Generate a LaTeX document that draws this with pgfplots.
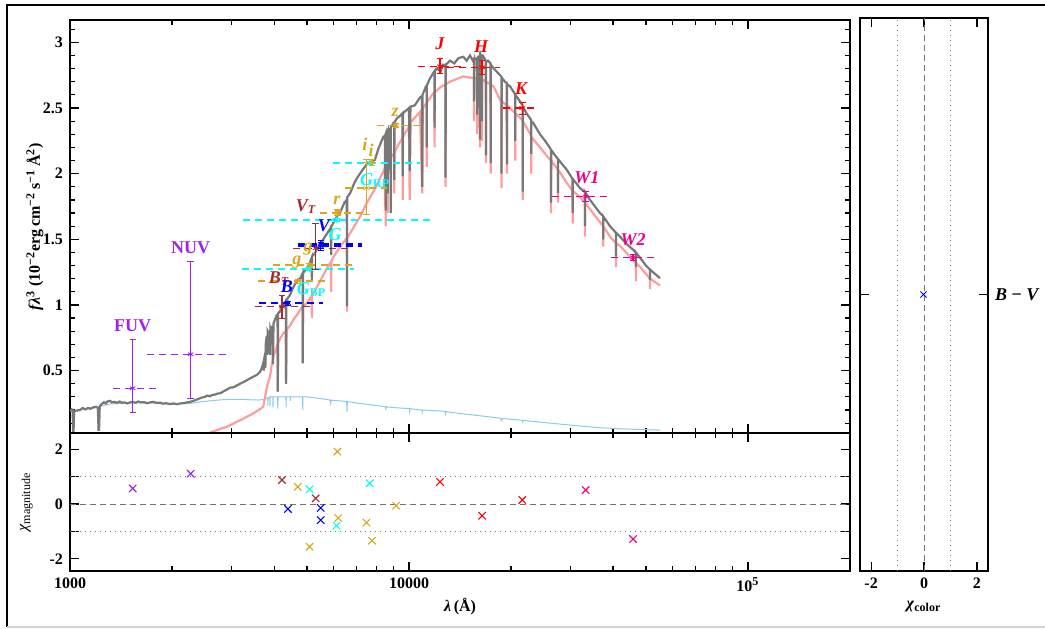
\documentclass[border=0pt]{standalone}
\usepackage{fontspec}
\setmainfont{Liberation Serif}
\usepackage{pgfplots}
\pgfplotsset{compat=1.18}

\definecolor{specgray}{HTML}{787878}
\definecolor{coolpink}{HTML}{FF9C9C}
\definecolor{hotblue}{HTML}{8ACBE6}
\definecolor{uvpurple}{HTML}{A020F0}
\definecolor{tychobrown}{HTML}{A52A2A}
\definecolor{gaiacyan}{HTML}{00FFFF}
\definecolor{sdssgold}{HTML}{DAA520}

\pgfplotsset{
  sedframe/.style={
    scale only axis,
    axis line style={line width=0.7pt},
    major tick length=4.5pt, minor tick length=2.5pt,
    every tick/.style={line width=0.6pt, black},
    tick align=inside,
    ticklabel style={font=\fontsize{8}{9}\selectfont\bfseries},
  },
  bandbar/.style={dash pattern=on 3.5pt off 2.5pt, line width=0.7pt},
  resid/.style={only marks, mark=x, mark size=2.6pt, line width=0.55pt},
}

% photometric point: colour, wavelength, flux, band start, band end, error below, error above
\newcommand{\phot}[7]{%
  \addplot[#1, bandbar, forget plot] coordinates {(#4,#3) (#5,#3)};
  \addplot[#1, only marks, mark=asterisk, mark size=1.6pt, forget plot,
    error bars/.cd, y dir=both, y explicit,
    error bar style={line width=0.6pt, solid}]
    coordinates {(#2,#3) += (0,#7) -= (0,#6)};
}
\newcommand{\lab}[3]{\node[#1, font=\fontsize{9}{10}\selectfont\bfseries\itshape] at (axis cs:#2) {#3};}

\begin{document}
\begin{tikzpicture}
\useasboundingbox (0,0) rectangle (522.5pt,314pt);
\draw[line width=1pt] (3.5pt,0.5pt) -- (3.5pt,311.5pt) -- (522.5pt,311.5pt);
\draw[black!18, line width=0.8pt] (3.5pt,0.5pt) -- (522.5pt,0.5pt);

% ---------------- spectral energy distribution ----------------
\begin{axis}[sedframe,
  at={(35pt,97.5pt)}, anchor=south west,
  width=390pt, height=206.5pt,
  xmode=log, xmin=1000, xmax=200000,
  ymin=0.025, ymax=3.17,
  xtick={1000,10000,100000}, xticklabels={},
  minor xtick={2000,3000,4000,5000,6000,7000,8000,9000,20000,30000,40000,50000,60000,70000,80000,90000},
  ytick={0.5,1,1.5,2,2.5,3}, yticklabels={0.5,1,1.5,2,2.5,3},
  minor ytick={0.1,0.2,0.3,0.4,0.6,0.7,0.8,0.9,1.1,1.2,1.3,1.4,1.6,1.7,1.8,1.9,2.1,2.2,2.3,2.4,2.6,2.7,2.8,2.9,3.1},
  ylabel={\textit{fλ}\textsuperscript{3} (10\textsuperscript{−2}erg\,cm\textsuperscript{−2}\,s\textsuperscript{−1}\,Å\textsuperscript{2})},
  ylabel style={at={(axis description cs:-0.045,0.5)}, anchor=center, font=\fontsize{8}{9}\selectfont\bfseries},
]
% hot component
\addplot[hotblue, line width=0.5pt] coordinates {
(1000,0.19) (1100,0.205) (1200,0.22) (1300,0.245) (1500,0.255) (1800,0.252) (2000,0.245)
(2259,0.25) (2418,0.262) (2588,0.27) (2800,0.278) (2965,0.281) (3200,0.282) (3396,0.278)
(3600,0.276) (3700,0.28) (3745,0.28) (3750,0.25) (3755,0.285) (3800,0.29) (3830,0.29) (3835,0.23) (3840,0.295)
(3885,0.30) (3889,0.23) (3895,0.30) (3965,0.30) (3970,0.22) (3975,0.30) (4095,0.30) (4102,0.21) (4110,0.30)
(4335,0.30) (4340,0.22) (4345,0.30) (4466,0.30) (4471,0.27) (4476,0.30) (4855,0.30) (4861,0.20) (4868,0.30)
(5000,0.30) (5400,0.29) (5848,0.276) (5876,0.25) (5900,0.275) (6550,0.265) (6563,0.187) (6580,0.265)
(7169,0.25) (8000,0.235) (8530,0.225) (8545,0.20) (8560,0.224) (9400,0.215) (10030,0.212) (10049,0.19)
(10069,0.21) (10920,0.20) (10938,0.185) (10960,0.20) (12790,0.19) (12818,0.175) (12850,0.188)
(14000,0.175) (16000,0.158) (18553,0.138) (18751,0.12) (18800,0.136) (21600,0.122) (21655,0.11)
(21700,0.121) (26062,0.10) (30000,0.085) (36596,0.065) (44000,0.055) (55010,0.047)};
% cool component
\addplot[coolpink, line width=1.1pt] coordinates {
(2560,0.02) (2618,0.034) (2700,0.045) (2800,0.06) (2899,0.072) (3000,0.09) (3100,0.11) (3200,0.125)
(3320,0.148) (3450,0.17) (3600,0.20) (3717,0.225) (3750,0.28) (3778,0.327) (3830,0.40) (3890,0.453)
(3930,0.53) (3979,0.606) (4072,0.68) (4095,0.70) (4102,0.34) (4110,0.71) (4180,0.75) (4256,0.784)
(4330,0.80) (4340,0.40) (4350,0.81) (4450,0.84) (4557,0.886) (4660,0.92) (4770,0.96) (4855,0.99)
(4861,0.56) (4868,0.99) (4992,1.013) (5165,1.07) (5170,0.90) (5175,1.07) (5200,1.08) (5464,1.18)
(5700,1.27) (5885,1.33) (5893,1.10) (5900,1.33) (5968,1.36) (6250,1.44)
(6555,1.51) (6563,0.95) (6571,1.51) (6900,1.60) (7200,1.68) (7517,1.78) (8000,1.90) (8300,1.99)
(8490,2.04) (8498,1.75) (8505,2.04)
(8530,2.06) (8545,1.60) (8560,2.07) (8613,2.08) (8655,2.09) (8662,1.70) (8670,2.09) (9000,2.15) (9040,2.16) (9050,1.85) (9060,2.16)
(9300,2.22) (9570,2.27) (9581,1.80) (9600,2.28) (9700,2.30) (10000,2.36) (10049,1.80) (10100,2.39)
(10776,2.47) (10938,1.85) (11000,2.50) (11270,2.54) (11280,2.05) (11290,2.54) (11770,2.61) (11890,2.62) (11900,2.20) (11910,2.62)
(12400,2.66) (12800,2.68) (12818,1.90) (12840,2.68)
(13200,2.70) (14430,2.74) (15200,2.73) (15550,2.73) (15560,2.40) (15570,2.73) (15875,2.73) (15885,2.30) (15895,2.73)
(16100,2.73) (16110,2.35) (16120,2.73) (16180,2.73) (16197,2.20) (16215,2.73)
(16400,2.72) (16411,2.25) (16420,2.72) (16530,2.716) (16850,2.70)
(16870,2.08) (16890,2.70) (17400,2.68) (17420,2.00) (17440,2.68) (17800,2.66) (18553,2.563) (18730,2.55)
(18751,1.89) (18770,2.55) (19430,2.52) (19450,2.00) (19470,2.52) (20000,2.49) (20580,2.46) (20587,2.10) (20600,2.46) (21570,2.41) (21640,2.40)
(21655,1.80) (21670,2.40) (22920,2.29) (22935,2.00) (22950,2.28) (24347,2.20) (26062,2.106) (26230,2.10) (26250,1.70) (26270,2.10)
(27500,2.03) (27520,1.78) (27540,2.03) (29187,1.93) (30370,1.87) (30392,1.62) (30410,1.87) (31948,1.82)
(33020,1.78) (33040,1.52) (33060,1.78) (34198,1.73) (36596,1.63) (37400,1.60) (37430,1.445) (37460,1.60)
(39174,1.52) (40780,1.47) (40800,1.29) (40820,1.47) (41922,1.45) (45800,1.343) (46680,1.32) (46700,1.18)
(46720,1.32) (48024,1.29) (51380,1.20) (51400,1.12) (51420,1.20) (55010,1.15)};
% composite spectrum
\addplot[specgray, line width=1.1pt] coordinates {
(1000,0.19) (1012,0.205) (1018,0.20) (1022,0.03) (1024,0.02) (1028,0.19) (1045,0.195) (1070,0.20)
(1090,0.215) (1110,0.205) (1130,0.215) (1150,0.21) (1170,0.22) (1195,0.225) (1208,0.215) (1214,0.05)
(1218,0.05) (1224,0.23) (1240,0.245) (1260,0.26) (1275,0.25) (1290,0.265) (1312,0.27) (1330,0.258)
(1350,0.262) (1375,0.255) (1400,0.265) (1425,0.255) (1450,0.258) (1475,0.25) (1503,0.258) (1530,0.262)
(1560,0.255) (1590,0.265) (1620,0.258) (1650,0.26) (1690,0.252) (1722,0.258) (1760,0.262) (1800,0.255)
(1843,0.256) (1880,0.248) (1920,0.252) (1972,0.245) (2020,0.25) (2070,0.244) (2111,0.25) (2160,0.252)
(2210,0.258) (2259,0.262) (2300,0.268) (2340,0.275) (2380,0.282) (2418,0.29) (2460,0.296) (2500,0.30)
(2540,0.31) (2588,0.305) (2630,0.315) (2680,0.318) (2720,0.325) (2770,0.327) (2810,0.335) (2850,0.345)
(2900,0.355) (2965,0.37) (3020,0.372) (3070,0.38) (3120,0.39) (3173,0.40) (3230,0.41) (3290,0.42)
(3340,0.43) (3396,0.44) (3450,0.45) (3513,0.46) (3570,0.47) (3635,0.49) (3680,0.52) (3717,0.56)
(3730,0.50) (3745,0.60) (3760,0.62) (3770,0.52) (3780,0.70) (3800,0.76) (3815,0.62) (3830,0.80)
(3860,0.78) (3889,0.62) (3900,0.82) (3930,0.79) (3950,0.84) (3970,0.55) (3985,0.86) (4025,0.89)
(4070,0.92) (4095,0.93) (4102,0.34) (4110,0.935) (4165,0.95) (4230,0.99) (4300,1.02) (4335,1.03)
(4340,0.40) (4345,1.04) (4380,1.05) (4457,1.075) (4530,1.12) (4611,1.16) (4690,1.19) (4770,1.20)
(4855,1.24) (4861,0.555) (4868,1.24) (4950,1.27) (5030,1.29) (5105,1.326) (5165,1.36) (5170,1.18) (5175,1.37)
(5270,1.39) (5360,1.43) (5464,1.45) (5560,1.49) (5650,1.52) (5750,1.55) (5848,1.578) (5885,1.59) (5893,1.38) (5900,1.60)
(5940,1.61) (6050,1.65)
(6150,1.68) (6258,1.705) (6350,1.74) (6450,1.78) (6555,1.80) (6563,0.99) (6571,1.82) (6700,1.85)
(6850,1.91) (7000,1.96) (7169,2.00) (7350,2.04) (7500,2.07) (7700,2.09) (7937,2.105) (8100,2.18)
(8300,2.25) (8400,2.28) (8490,2.29) (8498,1.90) (8505,2.29) (8530,2.30) (8545,1.72) (8560,2.30)
(8655,2.33) (8662,1.85) (8670,2.33) (8750,2.34) (8820,2.34)
(8830,1.70) (8840,2.35) (8989,2.385) (9040,2.39) (9050,1.95) (9060,2.39) (9200,2.42) (9400,2.44)
(9570,2.46) (9581,1.98) (9600,2.46) (9800,2.48) (10000,2.50) (10049,2.02) (10100,2.51) (10400,2.52)
(10776,2.58) (10920,2.59) (10938,1.90) (10960,2.60) (11200,2.66) (11270,2.67) (11280,2.20) (11290,2.67)
(11500,2.72) (11795,2.767) (11890,2.78) (11900,2.35) (11910,2.78) (12100,2.80)
(12400,2.78) (12600,2.83) (12800,2.83) (12818,1.97) (12840,2.83) (13213,2.86) (13600,2.84) (14000,2.88)
(14460,2.89) (14800,2.86) (15136,2.90) (15474,2.855) (15550,2.87) (15560,2.55) (15570,2.87)
(15700,2.87) (15875,2.88) (15885,2.45) (15895,2.88) (16000,2.89) (16100,2.89) (16110,2.50) (16120,2.89)
(16180,2.90) (16197,2.26) (16215,2.91) (16400,2.90) (16411,2.40) (16420,2.90)
(16500,2.90) (16850,2.86) (16870,2.14) (16890,2.85) (17100,2.86) (17400,2.84) (17420,2.08)
(17440,2.83) (17800,2.80) (18553,2.75) (18730,2.74) (18751,2.00) (18770,2.73) (19200,2.70) (19430,2.69)
(19450,2.07) (19470,2.68) (19861,2.665) (20500,2.61) (20580,2.60) (20587,2.25) (20600,2.60)
(21255,2.55) (21640,2.52) (21655,1.864) (21670,2.51)
(22200,2.46) (22920,2.41) (22935,2.15) (22950,2.40) (23265,2.385) (24347,2.30) (25200,2.25) (26062,2.195) (26230,2.18) (26250,1.78) (26270,2.18)
(27500,2.11) (27520,1.85) (27540,2.11) (29187,2.03) (30370,1.96) (30392,1.70) (30410,1.96) (31948,1.89)
(33020,1.86) (33040,1.60) (33060,1.86) (34198,1.80) (36596,1.70) (37400,1.675) (37430,1.50) (37460,1.673)
(39174,1.60) (40780,1.55) (40800,1.37) (40820,1.55) (41922,1.52) (44000,1.46) (45890,1.42) (46680,1.40)
(46700,1.29) (46720,1.40) (48024,1.36) (50000,1.30) (51380,1.27) (51400,1.19) (51420,1.27) (53000,1.24)
(55010,1.204)};

% photometry
\phot{uvpurple}{1531}{0.366}{1339}{1806}{0.186}{0.374}
\phot{uvpurple}{2270}{0.625}{1687}{2985}{0.335}{0.705}
\phot{tychobrown}{4221}{0.987}{3513}{5210}{0.088}{0.089}
\phot{blue}{4395}{1.015}{3610}{5576}{0.015}{0.015}
\phot{sdssgold}{4700}{1.183}{3585}{5768}{0.015}{0.015}
\phot{gaiacyan}{5088}{1.274}{3223}{6881}{0.012}{0.012}
\phot{sdssgold}{5090}{1.305}{3962}{6776}{0.015}{0.015}
\phot{tychobrown}{5306}{1.432}{4548}{6563}{0.158}{0.186}
\phot{blue}{5490}{1.463}{4705}{7267}{0.03}{0.03}
\phot{blue}{5490}{1.448}{4705}{7267}{0.03}{0.03}
\phot{gaiacyan}{6110}{1.648}{3238}{11535}{0.012}{0.012}
\phot{sdssgold}{6150}{1.704}{5465}{7316}{0.025}{0.025}
\phot{sdssgold}{6180}{1.700}{5465}{7316}{0.02}{0.02}
\phot{sdssgold}{7490}{1.890}{6475}{8596}{0.204}{0.221}
\phot{gaiacyan}{7660}{2.080}{5968}{10775}{0.012}{0.012}
\phot{sdssgold}{7780}{2.085}{7253}{7937}{0.02}{0.02}
\phot{sdssgold}{9170}{2.365}{8031}{10775}{0.015}{0.015}
\phot{red}{12342}{2.817}{10629}{14332}{0.05}{0.064}
\phot{red}{16430}{2.810}{12920}{18547}{0.056}{0.05}
\phot{red}{21590}{2.500}{18933}{24018}{0.046}{0.043}
\phot{magenta}{33200}{1.826}{26362}{39627}{0.038}{0.038}
\phot{magenta}{45800}{1.361}{39446}{54640}{0.025}{0.026}

% band labels
\node[uvpurple, font=\fontsize{9}{10}\selectfont\bfseries] at (axis cs:1531,0.84) {FUV};
\node[uvpurple, font=\fontsize{9}{10}\selectfont\bfseries] at (axis cs:2270,1.435) {NUV};
\lab{tychobrown}{4136,1.198}{B\textsubscript{T}}
\lab{blue}{4365,1.137}{B}
\lab{gaiacyan}{5160,1.12}{G\textsubscript{\upshape BP}}
\lab{sdssgold}{4673,1.328}{g}
\lab{sdssgold}{5036,1.427}{g}
\lab{tychobrown}{4966,1.747}{V\textsubscript{T}}
\lab{blue}{5613,1.602}{V}
\lab{gaiacyan}{6050,1.534}{G}
\lab{sdssgold}{6132,1.80}{r}
\lab{sdssgold}{7413,2.22}{i}
\lab{sdssgold}{7730,2.18}{i}
\lab{gaiacyan}{7950,1.945}{G\textsubscript{\upshape RP}}
\lab{sdssgold}{9094,2.47}{z}
\lab{red}{12342,2.99}{J}
\lab{red}{16313,2.967}{H}
\lab{red}{21401,2.647}{K}
\lab{magenta}{33497,1.968}{W1}
\lab{magenta}{45800,1.496}{W2}
\end{axis}

% ---------------- magnitude residuals ----------------
\begin{axis}[sedframe,
  at={(35pt,28.5pt)}, anchor=south west,
  width=390pt, height=69pt,
  xmode=log, xmin=1000, xmax=200000,
  ymin=-2.45, ymax=2.6,
  xtick={1000,10000,100000}, xticklabels={1000,10000,10\textsuperscript{5}},
  minor xtick={2000,3000,4000,5000,6000,7000,8000,9000,20000,30000,40000,50000,60000,70000,80000,90000},
  ytick={-2,-1,0,1,2}, yticklabels={-2,,0,,2},
  xlabel={\textit{λ}\,(Å)},
  xlabel style={at={(axis description cs:0.5,0)}, anchor=center, yshift=-18pt, font=\fontsize{8}{9}\selectfont\bfseries},
  ylabel={\textit{χ}\textsubscript{magnitude}},
  ylabel style={at={(axis description cs:-0.056,0.5)}, anchor=center, font=\fontsize{8}{9}\selectfont},
]
\addplot[black!55, dash pattern=on 3pt off 2pt, line width=0.5pt] coordinates {(1000,0) (200000,0)};
\addplot[black!55, dotted, line width=0.5pt] coordinates {(1000,1) (200000,1)};
\addplot[black!55, dotted, line width=0.5pt] coordinates {(1000,-1) (200000,-1)};
\addplot[uvpurple, resid] coordinates {(1531,0.57) (2270,1.11)};
\addplot[tychobrown, resid] coordinates {(4221,0.88) (5306,0.21)};
\addplot[blue, resid] coordinates {(4395,-0.18) (5490,-0.14) (5490,-0.59)};
\addplot[gaiacyan, resid] coordinates {(5088,0.54) (6110,-0.79) (7660,0.76)};
\addplot[sdssgold, resid] coordinates {(4700,0.63) (5090,-1.56) (6150,1.92) (6180,-0.51) (7490,-0.68) (7780,-1.34) (9170,-0.06)};
\addplot[red, resid] coordinates {(12342,0.81) (16430,-0.43) (21590,0.15)};
\addplot[magenta, resid] coordinates {(33200,0.51) (45800,-1.28)};
\end{axis}

% ---------------- colour residuals ----------------
\begin{axis}[sedframe,
  at={(430pt,28.5pt)}, anchor=south west,
  width=64pt, height=276.5pt,
  xmin=-2.42, xmax=2.42, ymin=0, ymax=2,
  xtick={-2,0,2}, xticklabels={-2,0,2},
  ytick={1}, yticklabels={\textit{B} − \textit{V}},
  ytick pos=both, yticklabel pos=right,
  yticklabel style={font=\fontsize{9}{10}\selectfont\bfseries},
  xlabel={\textit{χ}\textsubscript{color}},
  xlabel style={at={(axis description cs:0.5,0)}, anchor=center, yshift=-18pt, font=\fontsize{8}{9}\selectfont\bfseries},
]
\addplot[black!55, dash pattern=on 3pt off 2pt, line width=0.5pt] coordinates {(0,0) (0,2)};
\addplot[black!55, dotted, line width=0.5pt] coordinates {(1,0) (1,2)};
\addplot[black!55, dotted, line width=0.5pt] coordinates {(-1,0) (-1,2)};
\addplot[blue, only marks, mark=x, mark size=2.2pt, line width=0.5pt] coordinates {(-0.02,1)};
\end{axis}
\end{tikzpicture}
\end{document}
